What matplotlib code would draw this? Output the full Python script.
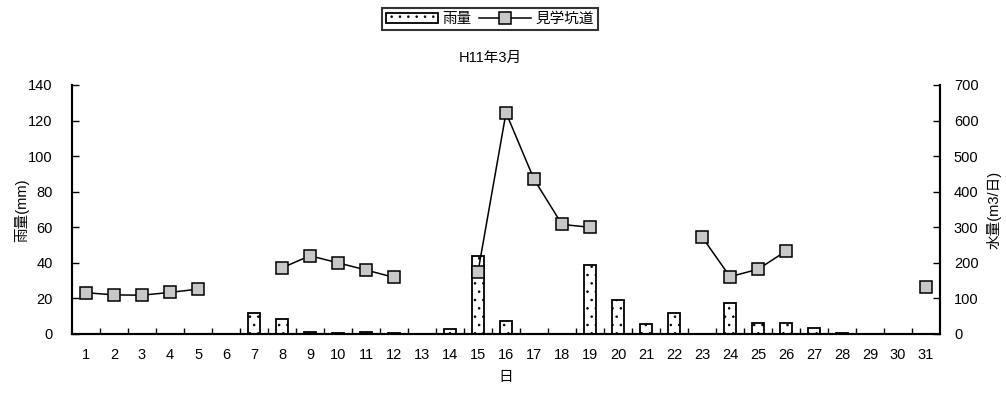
import numpy as np
import matplotlib
matplotlib.use("Agg")
from matplotlib import pyplot as plt

plt.rcParams['font.family'] = ['Liberation Sans', 'Noto Sans CJK JP', 'DejaVu Sans']
plt.rcParams['hatch.linewidth'] = 0.6

days = list(range(1, 32))
day_labels = [str(d) for d in days]
rain = [0, 0, 0, 0, 0, 0, 12, 8.3, 1, 0.5, 1, 0.5, 0, 2.8, 44, 7.3, 0, 0, 38.8, 19,
        5.6, 12, 0, 17.3, 6, 6, 3.2, 0.8, 0, 0, 0]
# nan = no measurement that day
flow = [116, 110, 109, 117, 126, np.nan, np.nan, 186, 220, 200, 180, 159, np.nan, np.nan, 175,
        622, 435, 308, 300, np.nan, np.nan, np.nan, 273, 161, 182, 233, np.nan, np.nan, np.nan,
        np.nan, 131]

fig = plt.figure(figsize=(10.06, 3.94), dpi=100)
ax1 = fig.add_axes([0.0716, 0.1523, 0.8628, 0.632])
ax2 = ax1.twinx()

x = np.arange(len(days))
bars = ax1.bar(x, rain, width=0.45, color="white", edgecolor="black", linewidth=1.3,
               hatch="..", label="雨量")
line, = ax2.plot(x, flow, color="black", linewidth=1.1, marker="s", markersize=8,
                 markerfacecolor="#c8c8c8", markeredgecolor="black", markeredgewidth=1.1,
                 label="見学坑道")

ax1.set_xlim(-0.5, len(days) - 0.5)
ax1.set_ylim(0, 140)
ax2.set_ylim(0, 700)
ax1.set_yticks(np.arange(0, 141, 20))
ax2.set_yticks(np.arange(0, 701, 100))
ax1.set_xticks(x)
ax1.set_xticklabels(day_labels)
ax1.set_xticks(np.arange(0.5, len(days) - 1, 1), minor=True)
ax1.tick_params(axis="x", which="major", length=0, pad=10, labelsize=10.5)
ax1.tick_params(axis="x", which="minor", direction="in", length=4, width=1)
ax1.tick_params(axis="y", direction="in", length=5, width=1, labelsize=10.5, pad=14)
ax2.tick_params(axis="y", direction="in", length=5, width=1, labelsize=10.5, pad=10)

for ax in (ax1, ax2):
    ax.spines["top"].set_visible(False)
    for s in ("left", "right", "bottom"):
        ax.spines[s].set_linewidth(1.5)

ax1.set_xlabel("日", fontsize=10.5, labelpad=6)
fig.text(0.022, 0.467, "雨量(mm)", rotation=90, ha="center", va="center", fontsize=10.5)
fig.text(0.988, 0.467, "水量(m3/日)", rotation=90, ha="center", va="center", fontsize=10.5)
fig.text(0.487, 0.853, "H11年3月", ha="center", va="center", fontsize=10.5)

leg = fig.legend(handles=[bars, line], loc="center", bbox_to_anchor=(0.487, 0.952), ncol=2,
                 frameon=True, fancybox=False, edgecolor="black", fontsize=10.5,
                 handlelength=3.6, handletextpad=0.3, columnspacing=0.5, borderpad=0.25)
leg.get_frame().set_linewidth(1.5)

plt.savefig("out.png", dpi=100)
